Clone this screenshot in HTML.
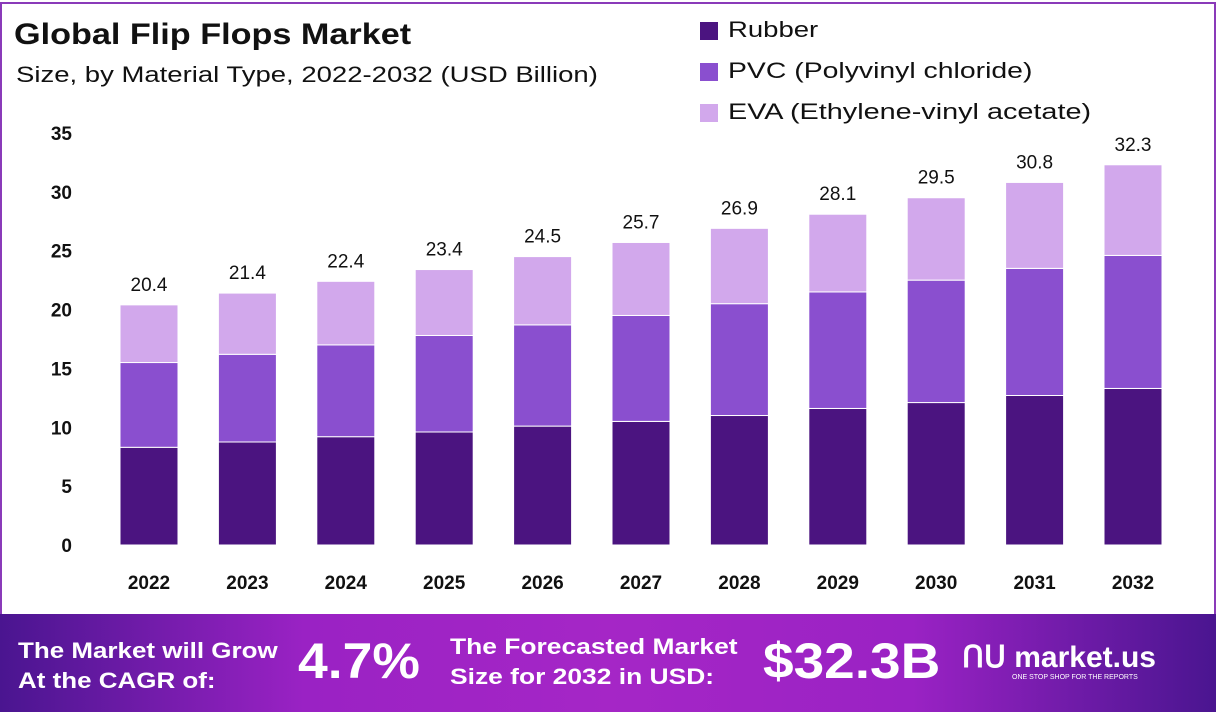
<!DOCTYPE html>
<html><head><meta charset="utf-8"><style>
body{margin:0;width:1216px;height:712px;overflow:hidden;background:#fff;font-family:"Liberation Sans",sans-serif}
#frame{position:absolute;left:0;top:2px;width:1212px;height:700px;border:2px solid #8a3ab9;border-bottom:none}
.t{position:absolute;color:#111;white-space:nowrap;transform-origin:0 0}
#banner{position:absolute;left:0;top:614px;width:1216px;height:98px;background:linear-gradient(90deg,#4a1590 0%,#9a22c4 25%,#a526c6 50%,#9a22c4 75%,#4a1590 100%)}
.b{position:absolute;color:#fff;font-weight:bold;white-space:nowrap;transform-origin:0 0}
</style></head><body>
<div id="frame"></div>
<div class="t" style="left:14px;top:18px;font-size:30px;font-weight:bold;transform:scaleX(1.14)">Global Flip Flops Market</div>
<div class="t" style="left:16px;top:62px;font-size:22px;transform:scaleX(1.25)">Size, by Material Type, 2022-2032 (USD Billion)</div>
<div>
<div><div style="position:absolute;left:700px;top:22px;width:18px;height:18px;background:#4b1480"></div><div class="t" style="left:728px;top:17px;font-size:22px;transform:scaleX(1.25)">Rubber</div></div>
<div><div style="position:absolute;left:700px;top:63px;width:18px;height:18px;background:#8a4fcf"></div><div class="t" style="left:728px;top:58px;font-size:22px;transform:scaleX(1.29)">PVC (Polyvinyl chloride)</div></div>
<div><div style="position:absolute;left:700px;top:104px;width:18px;height:18px;background:#d2a8ec"></div><div class="t" style="left:728px;top:99px;font-size:22px;transform:scaleX(1.31)">EVA (Ethylene-vinyl acetate)</div></div>
</div>
<svg id="chart" width="1216" height="712" style="position:absolute;left:0;top:0"></svg>
<div id="banner">
<div class="b" style="left:18px;top:22px;font-size:22px;line-height:30px;transform:scaleX(1.18)">The Market will Grow<br>At the CAGR of:</div>
<div class="b" style="left:298px;top:18px;font-size:50px;transform:scaleX(1.07)">4.7%</div>
<div class="b" style="left:450px;top:18px;font-size:22px;line-height:30px;transform:scaleX(1.2)">The Forecasted Market<br>Size for 2032 in USD:</div>
<div class="b" style="left:763px;top:18px;font-size:50px;transform:scaleX(1.1)">$32.3B</div>
<div class="b" style="left:962px;top:26px;font-size:30px">ՈՍ market.us</div>
<div class="b" style="left:1012px;top:60px;font-size:7px;font-weight:normal">ONE STOP SHOP FOR THE REPORTS</div>
</div>
<script>
const years=["2022","2023","2024","2025","2026","2027","2028","2029","2030","2031","2032"];
const rubber=[8.3,8.75,9.2,9.6,10.1,10.5,11.0,11.6,12.1,12.7,13.3];
const pvc=[7.2,7.45,7.8,8.2,8.6,9.0,9.5,9.9,10.4,10.8,11.3];
const totals=[20.4,21.4,22.4,23.4,24.5,25.7,26.9,28.1,29.5,30.8,32.3];
const yTicks=[0,5,10,15,20,25,30,35];
const NS="http://www.w3.org/2000/svg";
const svg=document.getElementById('chart');
const y0=545,pxPer=412/35;
function y(v){return y0-v*pxPer;}
function xc(i){return 149+i*98.4;}
const bw=58;
function mk(tag,attrs){const e=document.createElementNS(NS,tag);for(const k in attrs)e.setAttribute(k,attrs[k]);svg.appendChild(e);return e;}
yTicks.forEach(t=>{const e=mk('text',{x:72,y:y(t)+7,'text-anchor':'end','font-size':19,'font-weight':'bold','font-family':'Liberation Sans',fill:'#111'});e.textContent=t;

});
years.forEach((yr,i)=>{
const eva=totals[i]-rubber[i]-pvc[i];
const segs=[[0,rubber[i],'#4b1480','bar-rubber-'+yr],[rubber[i],pvc[i],'#8a4fcf','bar-pvc-'+yr],[rubber[i]+pvc[i],eva,'#d2a8ec','bar-eva-'+yr]];
segs.forEach(s=>{const r=mk('rect',{x:xc(i)-bw/2,y:y(s[0]+s[1]),width:bw,height:s[1]*pxPer,fill:s[2],stroke:'#fff','stroke-width':1});

});
const l=mk('text',{x:xc(i),y:y(totals[i])-14,'text-anchor':'middle','font-size':19,'font-family':'Liberation Sans',fill:'#111'});l.textContent=totals[i];


const xl=mk('text',{x:xc(i),y:589,'text-anchor':'middle','font-size':19,'font-weight':'bold','font-family':'Liberation Sans',fill:'#111'});xl.textContent=yr;


});
</script>
</body></html>
